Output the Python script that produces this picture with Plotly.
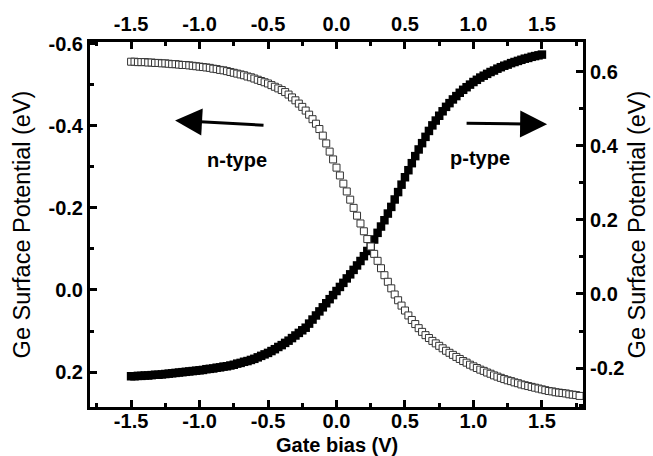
import numpy as np
import plotly.graph_objects as go

# Gate bias sweep (V), 0.025 V steps
x_step = 0.025
x_start = -1.5

# n-type (open squares), left axis, Ge surface potential (eV)
n_type = [
    -0.556, -0.556, -0.555, -0.555, -0.555, -0.554, -0.554, -0.553, -0.553, -0.552,
    -0.552, -0.551, -0.550, -0.550, -0.549, -0.548, -0.548, -0.547, -0.546, -0.545,
    -0.544, -0.543, -0.542, -0.541, -0.539, -0.538, -0.536, -0.535, -0.533, -0.531,
    -0.529, -0.527, -0.525, -0.523, -0.520, -0.518, -0.515, -0.512, -0.509, -0.506,
    -0.503, -0.499, -0.495, -0.491, -0.487, -0.482, -0.476, -0.469, -0.462, -0.454,
    -0.446, -0.437, -0.427, -0.416, -0.405, -0.392, -0.376, -0.357, -0.337, -0.318,
    -0.298, -0.279, -0.259, -0.240, -0.220, -0.200, -0.181, -0.162, -0.143, -0.124,
    -0.106, -0.088, -0.071, -0.053, -0.036, -0.020, -0.004, 0.011, 0.025, 0.038,
    0.050, 0.062, 0.073, 0.083, 0.093, 0.102, 0.110, 0.117, 0.124, 0.130,
    0.136, 0.142, 0.148, 0.153, 0.158, 0.163, 0.168, 0.173, 0.177, 0.182,
    0.186, 0.190, 0.194, 0.197, 0.201, 0.204, 0.208, 0.211, 0.214, 0.217,
    0.220, 0.222, 0.225, 0.227, 0.230, 0.232, 0.234, 0.236, 0.238, 0.240,
    0.242, 0.244, 0.246, 0.247, 0.249, 0.250, 0.251, 0.252, 0.254, 0.255,
    0.256, 0.258,
]

# p-type (filled squares), right axis, Ge surface potential (eV)
p_type = [
    -0.222, -0.222, -0.221, -0.221, -0.220, -0.220, -0.219, -0.218, -0.218, -0.217,
    -0.216, -0.215, -0.214, -0.213, -0.212, -0.211, -0.210, -0.209, -0.208, -0.207,
    -0.206, -0.205, -0.203, -0.202, -0.201, -0.199, -0.198, -0.196, -0.195, -0.193,
    -0.191, -0.188, -0.186, -0.183, -0.181, -0.178, -0.175, -0.171, -0.167, -0.163,
    -0.159, -0.154, -0.149, -0.143, -0.138, -0.132, -0.126, -0.119, -0.112, -0.105,
    -0.098, -0.091, -0.080, -0.069, -0.058, -0.047, -0.036, -0.025, -0.014, -0.003,
    0.008, 0.019, 0.030, 0.042, 0.053, 0.065, 0.077, 0.089, 0.102, 0.116,
    0.130, 0.147, 0.165, 0.182, 0.199, 0.217, 0.235, 0.255, 0.275, 0.295,
    0.315, 0.334, 0.353, 0.372, 0.390, 0.407, 0.424, 0.440, 0.455, 0.468,
    0.481, 0.493, 0.505, 0.515, 0.525, 0.534, 0.543, 0.551, 0.558, 0.565,
    0.572, 0.578, 0.584, 0.589, 0.594, 0.599, 0.603, 0.608, 0.612, 0.616,
    0.619, 0.623, 0.626, 0.629, 0.632, 0.635, 0.637, 0.640, 0.642, 0.644,
    0.646,
]

x_n = np.round(x_start + x_step * np.arange(len(n_type)), 3)
x_p = np.round(x_start + x_step * np.arange(len(p_type)), 3)

x_ticks = [-1.5, -1.0, -0.5, 0.0, 0.5, 1.0, 1.5]
x_ticktext = ["-1.5", "-1.0", "-0.5", "0.0", "0.5", "1.0", "1.5"]
left_ticks = [-0.6, -0.4, -0.2, 0.0, 0.2]
left_ticktext = ["-0.6", "-0.4", "-0.2", "0.0", "0.2"]
right_ticks = [-0.2, 0.0, 0.2, 0.4, 0.6]
right_ticktext = ["-0.2", "0.0", "0.2", "0.4", "0.6"]

FONT = "Liberation Sans"
tickfont = dict(family=FONT, size=20, color="black", weight="bold")
xtitlefont = dict(family=FONT, size=20, color="black", weight="bold")
ytitlefont = dict(family=FONT, size=23.5, color="black")

fig = go.Figure()

fig.add_trace(go.Scatter(
    x=x_p, y=p_type, mode="markers", xaxis="x", yaxis="y",
    marker=dict(symbol="square", size=8.5, color="black", line=dict(width=0)),
    showlegend=False,
))
fig.add_trace(go.Scatter(
    x=x_n, y=n_type, mode="markers", xaxis="x2", yaxis="y2",
    marker=dict(symbol="square", size=7, color="white", line=dict(color="#333333", width=1)),
    showlegend=False,
))

common_line = dict(showline=True, linewidth=3, linecolor="black", showgrid=False,
                   zeroline=False, ticks="inside", tickwidth=2.5, ticklen=7,
                   tickcolor="black", automargin=False)

fig.update_layout(
    width=653, height=456,
    margin=dict(l=90, r=70, t=42, b=49),
    paper_bgcolor="white", plot_bgcolor="white",
    xaxis=dict(range=[-1.8, 1.8], side="bottom", tickvals=x_ticks, ticktext=x_ticktext,
               tickfont=tickfont, ticklabelstandoff=-6,
               minor=dict(ticks="inside", ticklen=4, tickwidth=2.5, dtick=0.25, tick0=-1.75,
                          tickcolor="black"),
               **common_line),
    xaxis2=dict(range=[-1.8, 1.8], side="top", overlaying="x", anchor="y2",
                tickvals=x_ticks, ticktext=x_ticktext, tickfont=tickfont,
                minor=dict(ticks="inside", ticklen=4, tickwidth=2.5, dtick=0.25, tick0=-1.75,
                           tickcolor="black"),
                **common_line),
    yaxis=dict(range=[-0.305, 0.68], side="right", tickvals=right_ticks,
               ticktext=right_ticktext, tickfont=tickfont,
               minor=dict(ticks="inside", ticklen=4, tickwidth=2.5, dtick=0.1, tick0=0.1,
                          tickcolor="black"),
               title=dict(text="Ge Surface Potential (eV)", font=ytitlefont, standoff=6),
               **common_line),
    yaxis2=dict(range=[0.285, -0.604], side="left", overlaying="y", anchor="x2",
                tickvals=left_ticks, ticktext=left_ticktext, tickfont=tickfont,
                minor=dict(ticks="inside", ticklen=4, tickwidth=2.5, dtick=0.1, tick0=0.1,
                           tickcolor="black"),
                title=dict(text="Ge Surface Potential (eV)", font=ytitlefont, standoff=12),
                **common_line),
)

# x-axis title placed just below the tick labels
fig.add_annotation(x=0.5, y=-0.104, xref="paper", yref="paper", text="Gate bias (V)",
                   showarrow=False, xanchor="center", yanchor="middle", font=xtitlefont)

# arrows
fig.add_annotation(x=-1.179, y=-0.413, ax=-0.522, ay=-0.401, xref="x2", yref="y2",
                   axref="x2", ayref="y2", text="", showarrow=True, arrowhead=2,
                   arrowsize=1.8, arrowwidth=3, arrowcolor="black")
fig.add_annotation(x=1.538, y=0.458, ax=0.939, ay=0.461, xref="x", yref="y",
                   axref="x", ayref="y", text="", showarrow=True, arrowhead=2,
                   arrowsize=1.8, arrowwidth=3, arrowcolor="black")
fig.add_annotation(x=-0.726, y=-0.316, xref="x2", yref="y2", text="n-type",
                   showarrow=False, font=dict(family=FONT, size=20, color="black", weight="bold"))
fig.add_annotation(x=1.049, y=0.366, xref="x", yref="y", text="p-type",
                   showarrow=False, font=dict(family=FONT, size=20, color="black", weight="bold"))

fig.write_html("out.html")
